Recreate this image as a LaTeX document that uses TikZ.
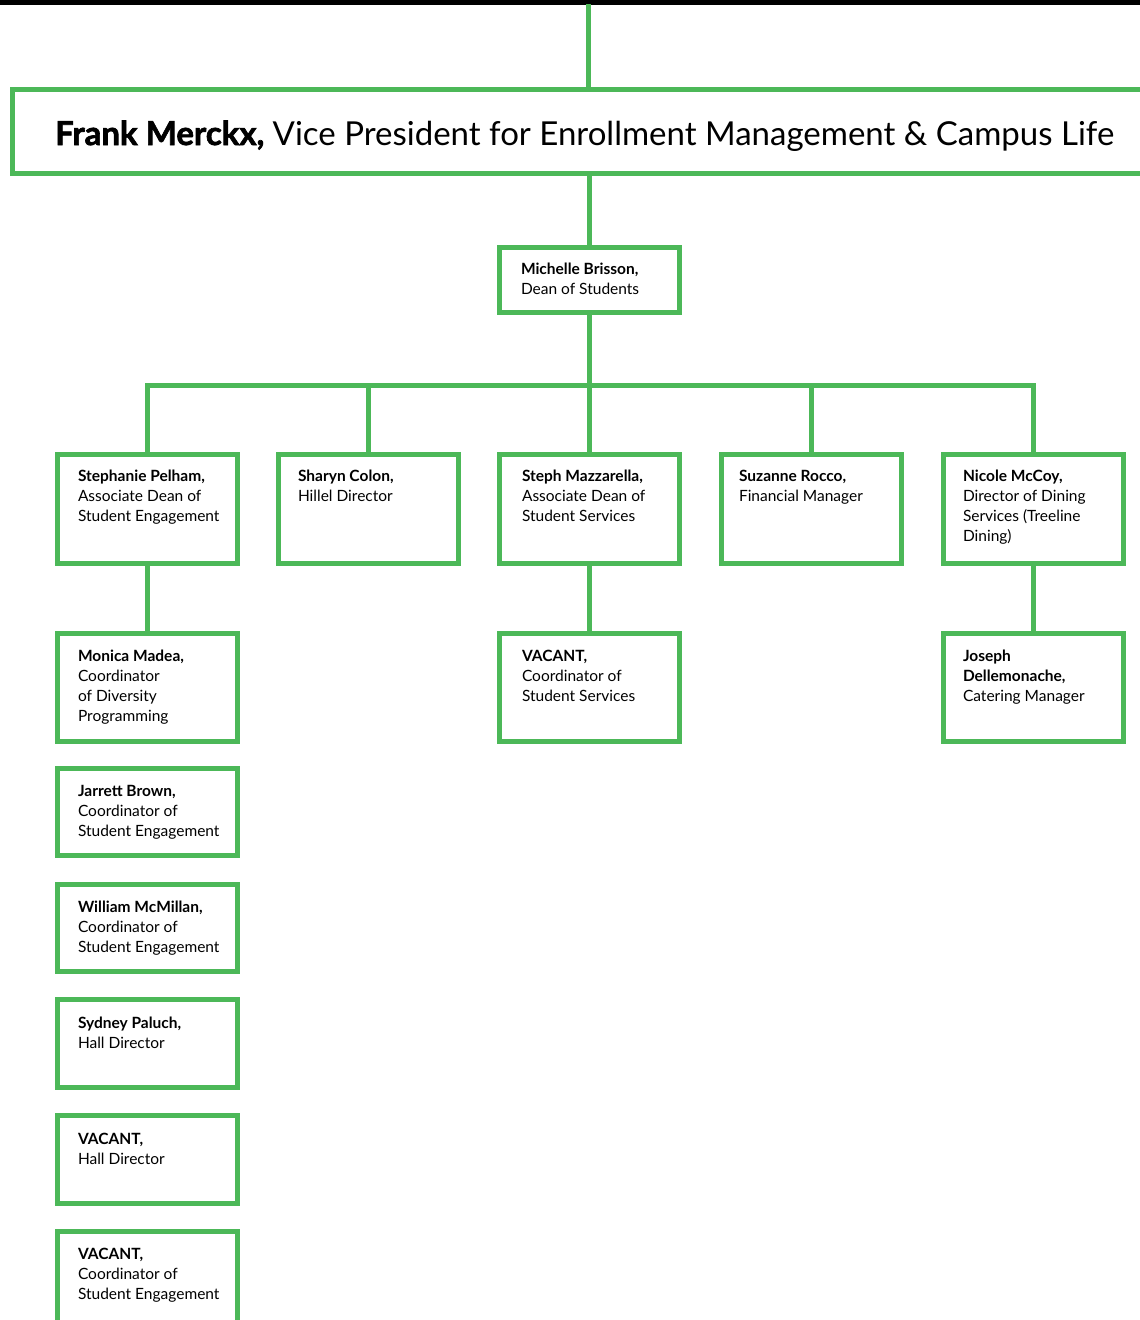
\documentclass[tikz,border=0pt]{standalone}
\usepackage{fontspec}
\setmainfont{Lato}
\newfontfamily\titlefont{Lato}[BoldFeatures={FakeBold=2}]
\definecolor{grn}{RGB}{76,184,88}
\newcommand{\orgtxt}[1]{\begin{tabular}[t]{@{}l@{}}#1\end{tabular}}
\begin{document}
\begin{tikzpicture}[x=1pt,y=-1pt,
  box/.style={draw=grn, line width=5pt, minimum width=180pt, inner sep=0pt, outer sep=0pt, anchor=north west},
  txt/.style={anchor=base west, inner sep=0pt, outer sep=0pt, font=\fontsize{15.5}{20}\selectfont},
  conn/.style={draw=grn, line width=5pt}]
\clip (0,0) rectangle (1140,1320);
\fill[black] (0,0) rectangle (1140,4.5);
% boxes
\node[box, minimum width=1138pt, minimum height=84pt] (vp) at (12.5,89) {};
\node[box, minimum height=65pt] (ms) at (499.5,247) {};
\node[box, minimum height=109pt] (sp) at (57.5,454) {};
\node[box, minimum height=109pt] (sc) at (278.5,454) {};
\node[box, minimum height=109pt] (sm) at (499.5,454) {};
\node[box, minimum height=109pt] (sr) at (721.5,454) {};
\node[box, minimum height=109pt] (nm) at (943.5,454) {};
\node[box, minimum height=108pt] (mm) at (57.5,633) {};
\node[box, minimum height=108pt] (vc) at (499.5,633) {};
\node[box, minimum height=108pt] (jd) at (943.5,633) {};
\node[box, minimum height=87pt] (jb) at (57.5,768) {};
\node[box, minimum height=87pt] (wm) at (57.5,884) {};
\node[box, minimum height=88pt] (sy) at (57.5,999) {};
\node[box, minimum height=88pt] (vh) at (57.5,1115) {};
\node[box, minimum height=100pt] (vs) at (57.5,1231) {};
% texts
\node[anchor=base west, inner sep=0pt, font=\titlefont\fontsize{33}{40}\selectfont] (tvp) at (55,145) {\textbf{Frank Merckx,} Vice President for Enrollment Management \& Campus Life};
\node[txt] (tms) at (521,274) {\orgtxt{\textbf{Michelle Brisson,}\\Dean of Students}};
\node[txt] (tsp) at (78,481) {\orgtxt{\textbf{Stephanie Pelham,}\\Associate Dean of\\Student Engagement}};
\node[txt] (tsc) at (298,481) {\orgtxt{\textbf{Sharyn Colon,}\\Hillel Director}};
\node[txt] (tsm) at (522,481) {\orgtxt{\textbf{Steph Mazzarella,}\\Associate Dean of\\Student Services}};
\node[txt] (tsr) at (739,481) {\orgtxt{\textbf{Suzanne Rocco,}\\Financial Manager}};
\node[txt] (tnm) at (963,481) {\orgtxt{\textbf{Nicole McCoy,}\\Director of Dining\\Services (Treeline\\Dining)}};
\node[txt] (tmm) at (78,661) {\orgtxt{\textbf{Monica Madea,}\\Coordinator\\of Diversity\\Programming}};
\node[txt] (tvc) at (522,661) {\orgtxt{\textbf{VACANT,}\\Coordinator of\\Student Services}};
\node[txt] (tjd) at (963,661) {\orgtxt{\textbf{Joseph}\\\textbf{Dellemonache,}\\Catering Manager}};
\node[txt] (tjb) at (78,796) {\orgtxt{\textbf{Jarrett Brown,}\\Coordinator of\\Student Engagement}};
\node[txt] (twm) at (78,912) {\orgtxt{\textbf{William McMillan,}\\Coordinator of\\Student Engagement}};
\node[txt] (tsy) at (78,1028) {\orgtxt{\textbf{Sydney Paluch,}\\Hall Director}};
\node[txt] (tvh) at (78,1144) {\orgtxt{\textbf{VACANT,}\\Hall Director}};
\node[txt] (tvs) at (78,1259) {\orgtxt{\textbf{VACANT,}\\Coordinator of\\Student Engagement}};
% connectors
\coordinate (top) at (588,4);
\coordinate (hub) at (588,385);
\draw[conn] (top) -- (top |- vp.north);
\draw[conn] (ms.north |- vp.south) -- (ms.north);
\draw[conn] (ms.south) -- (ms.south |- hub);
\draw[conn] (sp.north) -- (sp.north |- hub) -- (nm.north |- hub) -- (nm.north);
\draw[conn] (sc.north) -- (sc.north |- hub);
\draw[conn] (sm.north) -- (sm.north |- hub);
\draw[conn] (sr.north) -- (sr.north |- hub);
\draw[conn] (sp.south) -- (mm.north);
\draw[conn] (sm.south) -- (vc.north);
\draw[conn] (nm.south) -- (jd.north);
\end{tikzpicture}
\end{document}
